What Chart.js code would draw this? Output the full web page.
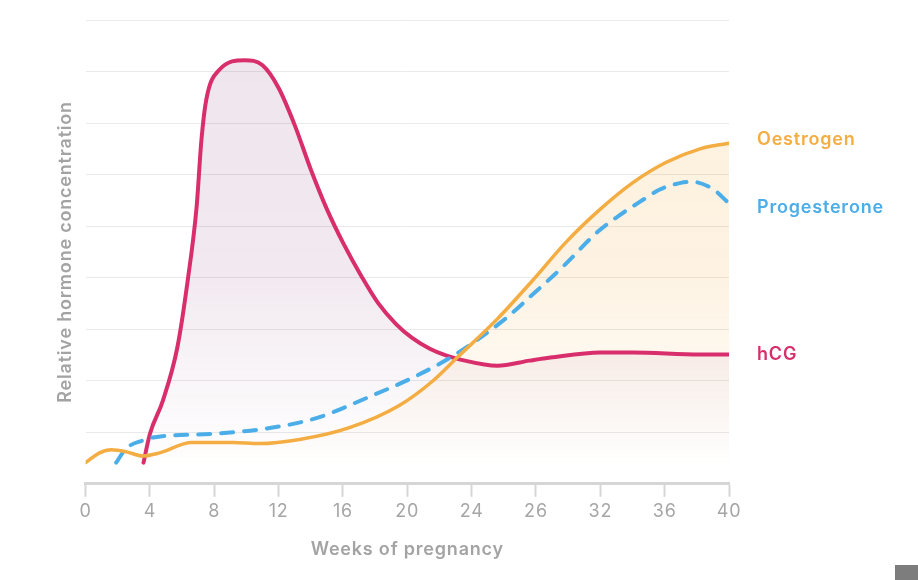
<!DOCTYPE html>
<html>
<head>
<meta charset="utf-8">
<script src="https://cdn.jsdelivr.net/npm/chart.js@4.4.1/dist/chart.umd.min.js"></script>
<style>
  body { margin: 0; background: #fff; }
  #wrap { position: relative; width: 918px; height: 580px; }
  #corner { position: absolute; left: 895px; top: 565px; width: 23px; height: 15px; background: #7d7d7d; }
</style>
</head>
<body>
<div id="wrap">
  <canvas id="hormones"></canvas>
  <div id="corner"></div>
</div>
<script>
// Minggu kehamilan dan kadar hormon relatif
const oestrogenWeeks = [0, 0.87, 1.6, 2.55, 3.55, 4.6, 6.6, 9.15, 10.8, 13.3, 16.4, 19.5, 21.6, 23.1, 25.6, 27.8, 29.9, 32, 34, 36.1, 38.2, 40];
const oestrogenLevels = [0.41, 0.6, 0.66, 0.62, 0.54, 0.6, 0.8, 0.8, 0.78, 0.86, 1.09, 1.52, 2.0, 2.45, 3.2, 3.95, 4.7, 5.33, 5.84, 6.24, 6.5, 6.61];

const progesteroneWeeks = [1.9, 2.5, 3.55, 4.2, 7.9, 11.2, 14.4, 17.5, 20.6, 23.1, 26.2, 27.6, 29.7, 31.8, 33.1, 34.5, 35.7, 37.0, 37.7, 39.0, 40];
const progesteroneLevels = [0.41, 0.68, 0.84, 0.9, 0.97, 1.07, 1.28, 1.67, 2.1, 2.53, 3.23, 3.62, 4.22, 4.88, 5.19, 5.48, 5.71, 5.84, 5.86, 5.72, 5.44];

const hcgWeeks = [3.6, 4.0, 4.8, 5.7, 6.35, 6.9, 7.2, 7.5, 8.3, 9.9, 11.0, 12.0, 13.0, 14.0, 15.0, 16.0, 17.2, 18.2, 19.3, 20.3, 21.4, 22.4, 23.3, 25.6, 27.6, 28.9, 32, 34, 38.2, 40];
const hcgLevels = [0.41, 0.97, 1.61, 2.64, 3.95, 5.37, 6.67, 7.45, 8.03, 8.22, 8.12, 7.68, 6.96, 6.1, 5.33, 4.68, 4.0, 3.5, 3.1, 2.83, 2.62, 2.49, 2.41, 2.29, 2.39, 2.45, 2.55, 2.55, 2.51, 2.51];

const xTickLabels = ['0', '4', '8', '12', '16', '20', '24', '26', '32', '36', '40'];
const seriesNames = ['Oestrogen', 'Progesterone', 'hCG'];

const FONT = 'Inter, "Noto Sans", sans-serif';

function toPoints(weeks, levels) {
    return weeks.map((w, i) => ({ x: w, y: levels[i] }));
}

// gradasi isian di bawah garis
function fade(rgb, alpha) {
    return (context) => {
        const area = context.chart.chartArea;
        if (!area) return 'rgba(' + rgb + ',' + alpha + ')';
        const g = context.chart.ctx.createLinearGradient(0, area.top, 0, area.bottom);
        g.addColorStop(0, 'rgba(' + rgb + ',' + alpha + ')');
        g.addColorStop(0.55, 'rgba(' + rgb + ',' + (alpha * 0.8) + ')');
        g.addColorStop(0.96, 'rgba(' + rgb + ',0)');
        return g;
    };
}

// huruf sedikit direnggangkan supaya mirip font aslinya
const spacing = {
    id: 'spacing',
    beforeLayout(chart) { chart.ctx.letterSpacing = '0.8px'; },
    beforeDraw(chart) { chart.ctx.letterSpacing = '0.8px'; }
};

// label nama hormon di ujung kanan tiap garis
const endLabels = {
    id: 'endLabels',
    afterDatasetsDraw(chart) {
        const ctx = chart.ctx;
        const offsets = [-4, 4, 0];
        ctx.save();
        ctx.font = '600 18px ' + FONT;
        ctx.textBaseline = 'middle';
        chart.data.datasets.forEach((ds, i) => {
            const pts = chart.getDatasetMeta(i).data;
            const last = pts[pts.length - 1];
            ctx.fillStyle = ds.borderColor;
            ctx.fillText(seriesNames[i], chart.chartArea.right + 28, last.y + offsets[i]);
        });
        ctx.restore();
    }
};

const ctx = document.getElementById('hormones').getContext('2d');
new Chart(ctx, {
    type: 'line',
    data: {
        datasets: [
            {
                label: seriesNames[0],
                data: toPoints(oestrogenWeeks, oestrogenLevels),
                borderColor: '#F4AD43',
                borderWidth: 3.5,
                backgroundColor: fade('245,170,60', 0.18),
                fill: 'origin',
            },
            {
                label: seriesNames[1],
                data: toPoints(progesteroneWeeks, progesteroneLevels),
                borderColor: '#4BAEE8',
                borderWidth: 4,
                borderDash: [12, 11],
                borderCapStyle: 'round',
                fill: false,
            },
            {
                label: seriesNames[2],
                data: toPoints(hcgWeeks, hcgLevels),
                borderColor: '#D92E6C',
                borderWidth: 4,
                backgroundColor: fade('130,50,110', 0.13),
                fill: 'origin',
            },
        ],
    },
    options: {
        responsive: true,
        maintainAspectRatio: false,
        animation: false,
        layout: { padding: { left: 51, right: 189, top: 20, bottom: 16 } },
        elements: {
            point: { radius: 0 },
            line: { cubicInterpolationMode: 'monotone', borderCapStyle: 'round', borderJoinStyle: 'round' },
        },
        plugins: {
            legend: { display: false },
            tooltip: { enabled: false },
            filler: { drawTime: 'beforeDatasetsDraw' },
        },
        scales: {
            x: {
                type: 'linear',
                min: 0,
                max: 40,
                ticks: {
                    stepSize: 4,
                    padding: 4,
                    color: '#a6a6a6',
                    font: { family: FONT, size: 18 },
                    callback: (v, i) => xTickLabels[i],
                },
                grid: {
                    drawOnChartArea: false,
                    tickLength: 13,
                    tickColor: '#d6d6d6',
                    tickWidth: 2,
                },
                border: { color: '#d6d6d6', width: 3 },
                title: {
                    display: true,
                    text: 'Weeks of pregnancy',
                    color: '#a3a3a3',
                    font: { family: FONT, size: 18, weight: '600' },
                    padding: { top: 12, bottom: 4 },
                },
            },
            y: {
                min: 0,
                max: 9,
                ticks: { display: false, stepSize: 1 },
                grid: { color: '#e9e9e9', lineWidth: 1, drawTicks: false },
                border: { display: false },
                title: {
                    display: true,
                    text: 'Relative hormone concentration',
                    color: '#a3a3a3',
                    font: { family: FONT, size: 18, weight: '600' },
                    padding: { top: 4, bottom: 9 },
                },
            },
        },
    },
    plugins: [spacing, endLabels],
});
</script>
</body>
</html>
